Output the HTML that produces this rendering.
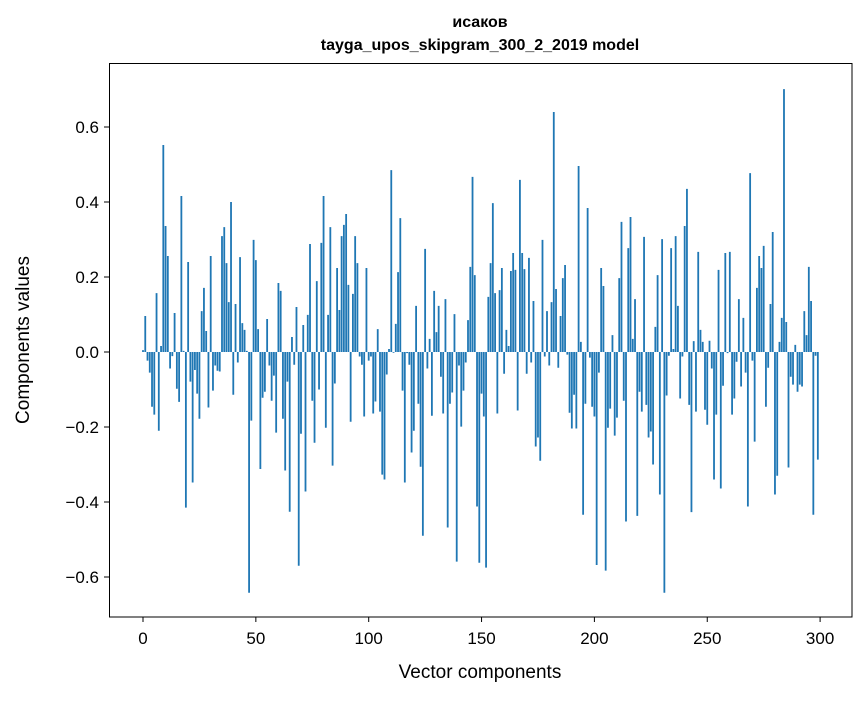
<!DOCTYPE html>
<html><head><meta charset="utf-8"><style>
body{margin:0;background:#fff}
svg text{font-family:"Liberation Sans","DejaVu Sans",sans-serif;fill:#000}
</style></head><body>
<svg id="chart" width="867" height="696" xmlns="http://www.w3.org/2000/svg">
<rect width="867" height="696" fill="#fff"/>
<text x="480" y="27" text-anchor="middle" font-size="16" font-weight="bold">исаков</text>
<text x="480" y="50" text-anchor="middle" font-size="16" font-weight="bold">tayga_upos_skipgram_300_2_2019 model</text>
<g id="bars"></g>
<rect x="109.5" y="63.5" width="742.5" height="553.5" fill="none" stroke="#000" stroke-width="1"/>
<g id="xticks"></g>
<g id="yticks"></g>
<text x="480" y="678" text-anchor="middle" font-size="19">Vector components</text>
<text transform="translate(29,340) rotate(-90)" text-anchor="middle" font-size="19">Components values</text>
</svg>
<script>
const values = [0.005,0.096,-0.023,-0.055,-0.146,-0.167,0.157,-0.21,0.016,0.552,0.336,0.256,-0.044,-0.011,0.104,-0.098,-0.133,0.416,0.003,-0.415,0.24,-0.079,-0.348,-0.048,-0.111,-0.178,0.109,0.171,0.056,-0.148,0.256,-0.103,-0.036,-0.05,-0.052,0.309,0.333,0.237,0.133,0.4,-0.114,0.128,-0.028,0.253,0.077,0.059,0.003,-0.642,-0.183,0.299,0.245,
0.061,-0.312,-0.122,-0.106,0.088,-0.036,-0.13,-0.063,-0.215,0.184,0.163,-0.178,-0.316,-0.079,-0.426,0.04,-0.034,0.12,-0.57,-0.218,0.072,-0.372,0.099,0.288,-0.13,-0.242,0.189,-0.1,0.291,0.416,-0.202,0.099,0.333,-0.303,-0.084,0.224,0.112,0.309,0.339,0.368,0.179,-0.186,0.155,0.309,0.237,-0.012,-0.034,-0.172,0.224,-0.023,
-0.012,-0.164,-0.132,0.061,-0.159,-0.327,-0.34,-0.06,0.008,0.485,-0.002,0.075,0.213,0.357,-0.103,-0.348,-0.003,-0.034,-0.268,-0.21,0.123,-0.138,-0.306,-0.49,0.275,-0.044,0.035,-0.17,0.163,0.053,0.123,-0.066,-0.164,0.141,-0.468,-0.138,-0.108,0.101,-0.559,-0.036,-0.199,-0.103,-0.028,0.085,0.227,0.467,0.205,-0.412,-0.562,-0.111,
-0.172,-0.575,0.147,0.237,0.397,0.157,-0.164,0.165,0.224,-0.058,0.059,0.016,0.216,0.264,0.219,-0.156,0.459,0.264,0.221,-0.058,0.251,-0.028,0.136,-0.252,-0.228,-0.29,0.299,-0.012,0.109,-0.036,0.133,0.64,0.168,-0.042,0.096,0.197,0.232,-0.007,-0.162,-0.204,-0.114,-0.204,0.496,0.027,-0.434,-0.138,0.384,-0.015,-0.146,-0.172,
-0.568,-0.055,0.224,0.176,-0.583,-0.202,-0.151,0.045,-0.223,-0.175,0.197,0.347,-0.13,-0.452,0.277,0.36,0.035,0.141,-0.437,-0.106,-0.159,0.307,-0.141,-0.228,-0.212,-0.3,0.067,0.205,-0.38,0.301,-0.642,-0.116,-0.01,0.277,0.008,0.309,0.123,-0.124,-0.012,0.336,0.435,-0.141,-0.427,0.029,-0.159,0.267,0.059,0.027,-0.154,-0.194,
0.03,-0.044,-0.34,-0.167,0.219,-0.364,-0.09,0.264,-0.003,0.267,-0.167,-0.124,-0.026,0.141,-0.092,0.091,-0.055,-0.412,0.477,-0.023,-0.239,0.171,0.256,0.224,0.283,-0.146,-0.042,0.128,0.32,-0.38,-0.33,0.027,0.091,0.701,0.08,-0.308,-0.066,-0.087,0.019,-0.106,-0.087,-0.092,0.109,0.045,0.227,0.136,-0.434,-0.01,-0.287];
const xTickValues = [0,50,100,150,200,250,300];
const yTickValues = [-0.6,-0.4,-0.2,0,0.2,0.4,0.6];
const yTickLabels = ["\u22120.6","\u22120.4","\u22120.2","0.0","0.2","0.4","0.6"];

const NS="http://www.w3.org/2000/svg";
const xScale = v => 143 + v*2.257;
const yScale = v => 352 - v*375;
const bars=document.getElementById('bars');
values.forEach((v,i)=>{
  const r=document.createElementNS(NS,'rect');
  
  
  const x0=xScale(i-0.4), x1=xScale(i+0.4);
  const y0=Math.min(yScale(v),yScale(0)), h=Math.abs(yScale(v)-yScale(0));
  r.setAttribute('x',x0);r.setAttribute('width',x1-x0);
  r.setAttribute('y',y0);r.setAttribute('height',Math.max(h,0.3));
  r.setAttribute('fill','#1f77b4');
  bars.appendChild(r);
});
const xg=document.getElementById('xticks');
xTickValues.forEach(t=>{
  const x=xScale(t);
  const l=document.createElementNS(NS,'line');
  
  
  l.setAttribute('x1',x);l.setAttribute('x2',x);l.setAttribute('y1',617);l.setAttribute('y2',622);l.setAttribute('stroke','#000');
  xg.appendChild(l);
  const tx=document.createElementNS(NS,'text');
  
  
  tx.setAttribute('x',x);tx.setAttribute('y',644);tx.setAttribute('text-anchor','middle');tx.setAttribute('font-size','17');
  tx.textContent=String(t);
  xg.appendChild(tx);
});
const yg=document.getElementById('yticks');
yTickValues.forEach((t,k)=>{
  const y=yScale(t);
  const l=document.createElementNS(NS,'line');
  
  
  l.setAttribute('x1',104);l.setAttribute('x2',109.5);l.setAttribute('y1',y);l.setAttribute('y2',y);l.setAttribute('stroke','#000');
  yg.appendChild(l);
  const tx=document.createElementNS(NS,'text');
  
  
  tx.setAttribute('x',99);tx.setAttribute('y',y+6);tx.setAttribute('text-anchor','end');tx.setAttribute('font-size','17');
  tx.textContent=yTickLabels[k];
  yg.appendChild(tx);
});
</script>
</body></html>
